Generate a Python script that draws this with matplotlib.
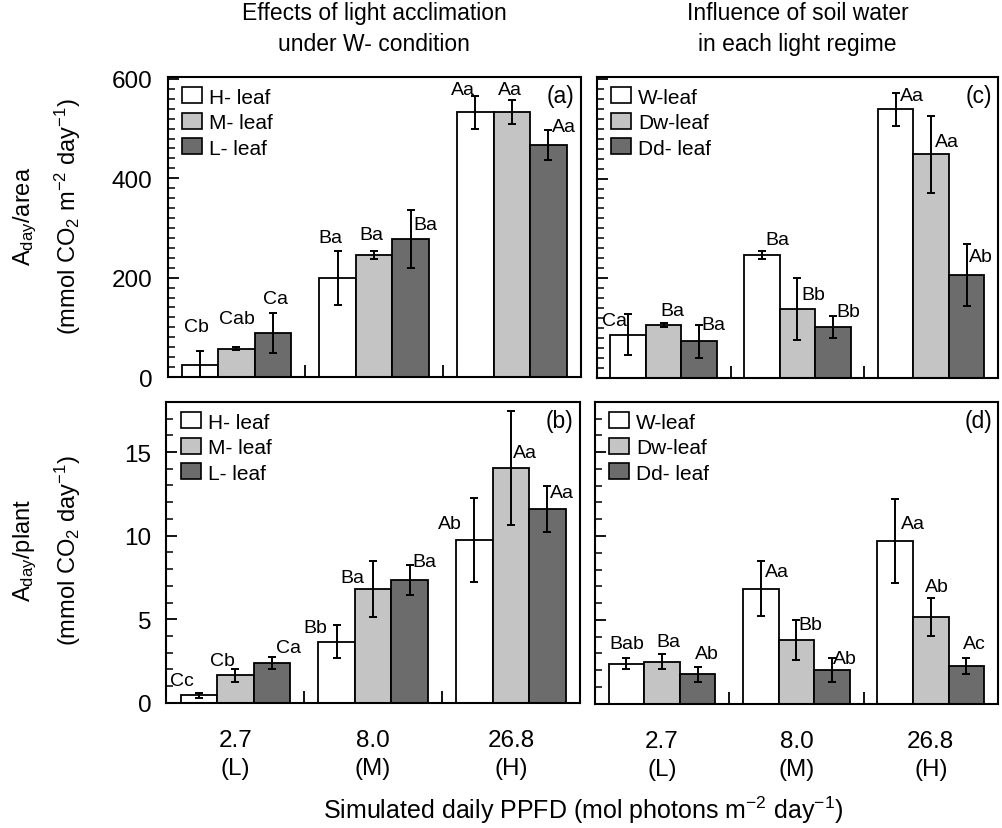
"""
Daily carbon gain per leaf area and per plant, four-panel bar figure.
"""

import numpy as np
import matplotlib
matplotlib.use("Agg")
import matplotlib.pyplot as plt
from matplotlib.ticker import MultipleLocator, FixedLocator

plt.rcParams["font.family"] = ["Liberation Sans", "DejaVu Sans"]
plt.rcParams["mathtext.fontset"] = "custom"
plt.rcParams["mathtext.rm"] = "Liberation Sans"
plt.rcParams["mathtext.it"] = "Liberation Sans:italic"

# ── data ──────────────────────────────────────────────────────────────────────
light_ticks = ["2.7\n(L)", "8.0\n(M)", "26.8\n(H)"]

# (a) A_day/area, light acclimation under W condition
a_names  = ["H- leaf", "M- leaf", "L- leaf"]
a_vals   = [[24, 199, 533], [57, 245, 534], [89, 278, 467]]
a_errs   = [[29, 54, 33], [3, 8, 24], [40, 59, 30]]
a_letter = [["Cb", "Ba", "Aa"], ["Cab", "Ba", "Aa"], ["Ca", "Ba", "Aa"]]

# (c) A_day/area, soil water in each light regime
c_names  = ["W-leaf", "Dw-leaf", "Dd- leaf"]
c_vals   = [[87, 247, 539], [106, 138, 449], [73, 102, 207]]
c_errs   = [[41, 8, 33], [4, 62, 77], [34, 23, 62]]
c_letter = [["Ca", "Ba", "Aa"], ["Ba", "Bb", "Aa"], ["Ba", "Bb", "Ab"]]

# (b) A_day/plant, light acclimation
b_vals   = [[0.45, 3.66, 9.73], [1.65, 6.8, 14.04], [2.37, 7.35, 11.59]]
b_errs   = [[0.15, 1.0, 2.53], [0.4, 1.67, 3.4], [0.35, 0.9, 1.37]]
b_letter = [["Cc", "Bb", "Ab"], ["Cb", "Ba", "Aa"], ["Ca", "Ba", "Aa"]]

# (d) A_day/plant, soil water
d_vals   = [[2.37, 6.86, 9.69], [2.5, 3.8, 5.16], [1.75, 2.0, 2.25]]
d_errs   = [[0.33, 1.65, 2.5], [0.45, 1.18, 1.13], [0.45, 0.7, 0.5]]
d_letter = [["Bab", "Aa", "Aa"], ["Ba", "Bb", "Ab"], ["Ab", "Ab", "Ac"]]

# ── styling ───────────────────────────────────────────────────────────────────
FILLS = ["white", "#c4c4c4", "#6c6c6c"]
WIDTH = 0.265

# letter offsets (pixels) from the top of each error bar
a_off = [[(-3, 24), (-7, 14), (-12, 6)], [(1, 29), (-3, 17), (-2, 10)], [(3, 14), (15, -15), (16, 4)]]
c_off = [[(-14, -6), (15, 11), (16, -3)], [(9, 13), (16, -16), (16, -26)], [(14, 0), (15, 4), (14, -13)]]
b_off = [[(-17, 12), (-21, -3), (-24, -26)], [(-13, 8), (-21, -16), (14, -41)], [(17, 10), (15, 3), (15, -6)]]
d_off = [[(0, 15), (16, -11), (18, -24)], [(6, 13), (14, -4), (6, 12)], [(9, 13), (13, 0), (8, 14)]]


def panel(ax, vals, errs, letters, offs, names, tag, ylim, major, minor):
    x = np.arange(len(light_ticks))
    for i in range(3):
        xi = x + (i - 1) * WIDTH
        ax.bar(xi, vals[i], WIDTH, color=FILLS[i], edgecolor="black",
               linewidth=1.3, label=names[i], zorder=2)
        ax.errorbar(xi, vals[i], yerr=errs[i], fmt="none", ecolor="black",
                    elinewidth=1.4, capsize=2.6, capthick=1.4, zorder=3)
        for j in range(3):
            ax.annotate(letters[i][j], (xi[j], vals[i][j] + errs[i][j]),
                        xytext=offs[i][j], textcoords="offset pixels",
                        ha="center", va="center", fontsize=14, zorder=4)
    ax.set_xlim(-0.5, 2.5)
    ax.set_ylim(*ylim)
    ax.yaxis.set_major_locator(MultipleLocator(major))
    ax.yaxis.set_minor_locator(MultipleLocator(minor))
    ax.xaxis.set_major_locator(FixedLocator(x))
    ax.xaxis.set_minor_locator(FixedLocator([0.5, 1.5]))
    ax.tick_params(axis="y", which="major", direction="in", length=8, width=1.3,
                   labelsize=17.5, pad=11)
    ax.tick_params(axis="y", which="minor", direction="in", length=5, width=1.1)
    ax.tick_params(axis="x", which="major", length=0, labelsize=17.5, pad=19)
    ax.tick_params(axis="x", which="minor", direction="in", length=9, width=1.3)
    for s in ax.spines.values():
        s.set_linewidth(1.5)
    leg = ax.legend(loc="upper left", bbox_to_anchor=(0.035, 0.965), frameon=False,
                    fontsize=15, handlelength=0.95, handleheight=0.8,
                    handletextpad=0.35, labelspacing=0.3, borderaxespad=0, borderpad=0)
    for h in leg.legend_handles:
        h.set_linewidth(1.2)
    ax.text(0.985, 0.975, tag, transform=ax.transAxes, ha="right", va="top", fontsize=16.5)


fig = plt.figure(figsize=(10.03, 8.29), dpi=100)
ax_a = fig.add_axes([0.167, 0.544, 0.412, 0.362])
ax_c = fig.add_axes([0.595, 0.543, 0.400, 0.363])
ax_b = fig.add_axes([0.166, 0.151, 0.412, 0.363])
ax_d = fig.add_axes([0.593, 0.150, 0.402, 0.364])

panel(ax_a, a_vals, a_errs, a_letter, a_off, a_names, "(a)", (0, 604), 200, 20)
panel(ax_c, c_vals, c_errs, c_letter, c_off, c_names, "(c)", (0, 604), 200, 20)
panel(ax_b, b_vals, b_errs, b_letter, b_off, a_names, "(b)", (0, 18), 5, 1)
panel(ax_d, d_vals, d_errs, d_letter, d_off, c_names, "(d)", (0, 18), 5, 1)

for ax in (ax_a, ax_c):
    ax.set_xticklabels([])
for ax in (ax_c, ax_d):
    ax.set_yticklabels([])
for ax in (ax_b, ax_d):
    ax.set_xticklabels(light_ticks, linespacing=1.35)

# titles above columns
fig.text(0.373, 0.965, "Effects of light acclimation\nunder W- condition",
         ha="center", va="center", fontsize=16.5, linespacing=1.4)
fig.text(0.795, 0.965, "Influence of soil water\nin each light regime",
         ha="center", va="center", fontsize=16.5, linespacing=1.4)

# y labels
fig.text(0.047, 0.739, "A$_{\\rm day}$/area\n(mmol CO$_2$ m$^{-2}$ day$^{-1}$)",
         rotation=90, ha="center", va="center", fontsize=17, linespacing=1.6)
fig.text(0.047, 0.336, "A$_{\\rm day}$/plant\n(mmol CO$_2$ day$^{-1}$)",
         rotation=90, ha="center", va="center", fontsize=17, linespacing=1.6)

# x label
fig.text(0.581, 0.022, "Simulated daily PPFD (mol photons m$^{-2}$ day$^{-1}$)",
         ha="center", va="center", fontsize=18)

fig.savefig("out.png", dpi=100)
